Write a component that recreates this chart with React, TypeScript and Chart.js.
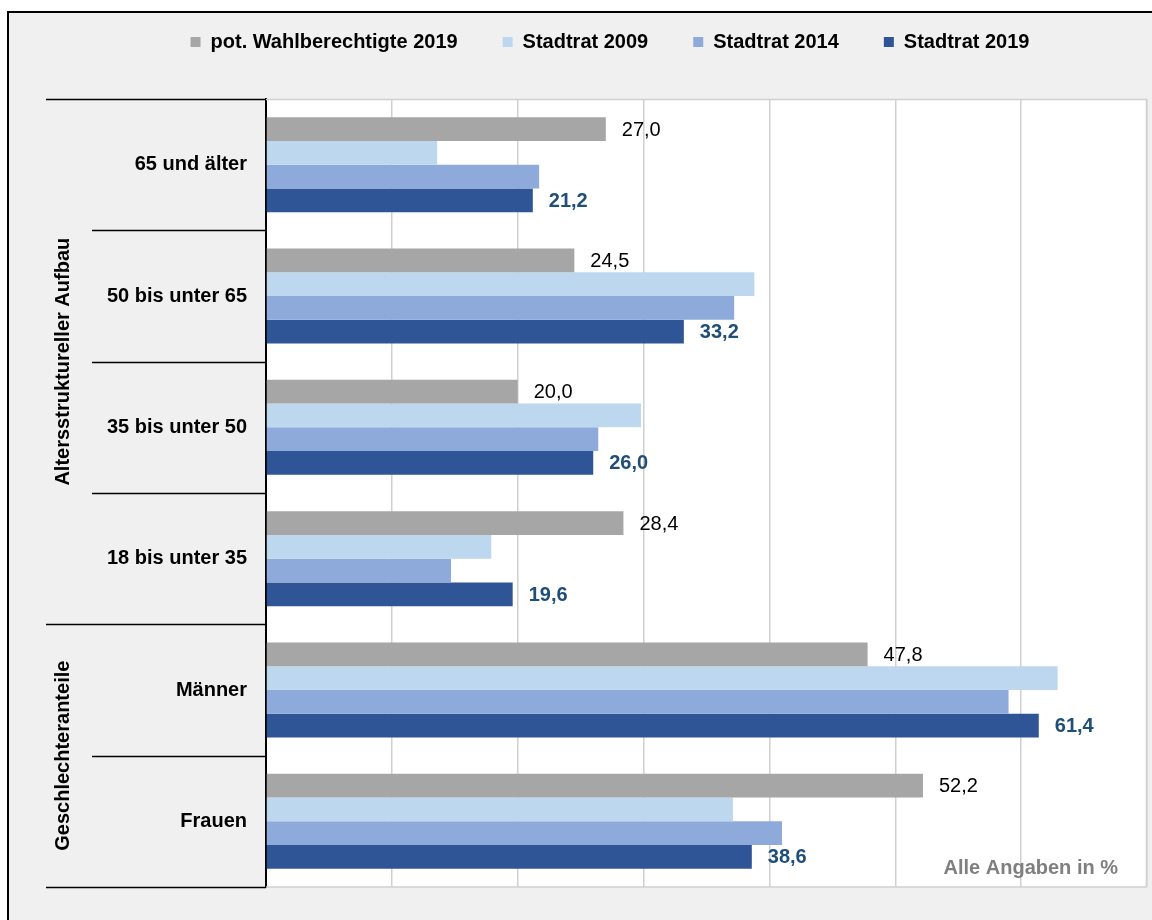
import React, { useEffect, useRef } from "react";
import { Chart, registerables } from "chart.js";

Chart.register(...registerables);

const categories = [
  "65 und älter",
  "50 bis unter 65",
  "35 bis unter 50",
  "18 bis unter 35",
  "Männer",
  "Frauen",
];
const seriesNames = [
  "pot. Wahlberechtigte 2019",
  "Stadtrat 2009",
  "Stadtrat 2014",
  "Stadtrat 2019",
];
const potWahlberechtigte2019 = [27.0, 24.5, 20.0, 28.4, 47.8, 52.2];
const stadtrat2009 = [13.6, 38.8, 29.8, 17.9, 62.9, 37.1];
const stadtrat2014 = [21.7, 37.2, 26.4, 14.7, 59.0, 41.0];
const stadtrat2019 = [21.2, 33.2, 26.0, 19.6, 61.4, 38.6];
const seriesColors = ["#a6a6a6", "#bdd7ee", "#8eaadb", "#2f5597"];
const groups = [
  { label: "Altersstruktureller Aufbau", from: 0, to: 3 },
  { label: "Geschlechteranteile", from: 4, to: 5 },
];
const footnote = "Alle Angaben in %";
const xMax = 70;
const xStep = 10;

const FONT = "'Liberation Sans', Arial, sans-serif";

const fmt = (v: number) => v.toFixed(1).replace(".", ",");

export default function App() {
  const canvasRef = useRef<HTMLCanvasElement | null>(null);

  useEffect(() => {
    const canvas = canvasRef.current;
    if (!canvas) return;

    const backgroundPlugin = {
      id: "bgFrame",
      beforeDraw(chart: any) {
        const { ctx, chartArea, width, height } = chart;
        ctx.save();
        ctx.fillStyle = "#ffffff";
        ctx.fillRect(0, 0, width, height);
        ctx.fillStyle = "#f0f0f0";
        ctx.fillRect(7, 11, width, height);
        ctx.strokeStyle = "#000000";
        ctx.lineWidth = 2;
        ctx.beginPath();
        ctx.moveTo(8, height + 5);
        ctx.lineTo(8, 12);
        ctx.lineTo(width + 5, 12);
        ctx.stroke();
        ctx.fillStyle = "#ffffff";
        ctx.fillRect(
          chartArea.left,
          chartArea.top,
          chartArea.right - chartArea.left,
          chartArea.bottom - chartArea.top
        );
        ctx.restore();
      },
      afterDraw(chart: any) {
        const { ctx, chartArea } = chart;
        const yScale = chart.scales.y;
        ctx.save();
        // plot border (grey)
        ctx.strokeStyle = "#d0d0d0";
        ctx.lineWidth = 1.5;
        ctx.beginPath();
        ctx.moveTo(chartArea.left, chartArea.top + 0.5);
        ctx.lineTo(chartArea.right - 0.5, chartArea.top + 0.5);
        ctx.lineTo(chartArea.right - 0.5, chartArea.bottom);
        ctx.lineTo(chartArea.left, chartArea.bottom);
        ctx.stroke();

        // separator lines in label area
        const n = categories.length;
        const step = (chartArea.bottom - chartArea.top) / n;
        ctx.strokeStyle = "#000000";
        ctx.lineWidth = 1.5;
        const groupStarts = new Set<number>();
        groups.forEach((g) => {
          groupStarts.add(g.from);
          groupStarts.add(g.to + 1);
        });
        for (let i = 0; i <= n; i++) {
          const y = Math.round(chartArea.top + i * step) + 0.5;
          const x0 = groupStarts.has(i) ? 46 : 92;
          ctx.beginPath();
          ctx.moveTo(x0, y);
          ctx.lineTo(chartArea.left, y);
          ctx.stroke();
        }

        // group labels
        ctx.fillStyle = "#000000";
        ctx.font = `bold 20px ${FONT}`;
        ctx.textAlign = "center";
        ctx.textBaseline = "middle";
        groups.forEach((g) => {
          const yTop = yScale.getPixelForValue(g.from) - step / 2;
          const yBot = yScale.getPixelForValue(g.to) + step / 2;
          const cy = (yTop + yBot) / 2;
          ctx.save();
          ctx.translate(63, cy);
          ctx.rotate(-Math.PI / 2);
          ctx.fillText(g.label, 0, 0);
          ctx.restore();
        });

        // footnote
        ctx.fillStyle = "#7f7f7f";
        ctx.font = `bold 20px ${FONT}`;
        ctx.textAlign = "right";
        ctx.textBaseline = "middle";
        ctx.fillText(footnote, 1118, 868);
        ctx.restore();
      },
    };

    const labelPlugin = {
      id: "valueLabels",
      afterDatasetsDraw(chart: any) {
        const { ctx } = chart;
        ctx.save();
        ctx.textAlign = "left";
        ctx.textBaseline = "middle";
        [0, 3].forEach((di) => {
          const meta = chart.getDatasetMeta(di);
          const data = chart.data.datasets[di].data as number[];
          if (di === 0) {
            ctx.font = `20px ${FONT}`;
            ctx.fillStyle = "#000000";
          } else {
            ctx.font = `bold 20px ${FONT}`;
            ctx.fillStyle = "#1f4e79";
          }
          meta.data.forEach((el: any, i: number) => {
            ctx.fillText(fmt(data[i]), el.x + 16, el.y + 1);
          });
        });
        ctx.restore();
      },
    };

    const seriesData = [
      potWahlberechtigte2019,
      stadtrat2009,
      stadtrat2014,
      stadtrat2019,
    ];

    const chart = new Chart(canvas, {
      type: "bar",
      data: {
        labels: categories,
        datasets: seriesNames.map((name, i) => ({
          label: name,
          data: seriesData[i],
          backgroundColor: seriesColors[i],
          borderWidth: 0,
          categoryPercentage: 0.723,
          barPercentage: 1.0,
        })),
      },
      options: {
        indexAxis: "y",
        responsive: false,
        animation: false,
        layout: {
          padding: { left: 73, right: 5, top: -13, bottom: 33 },
        },
        plugins: {
          legend: {
            display: true,
            position: "top",
            labels: {
              boxWidth: 10,
              boxHeight: 10,
              padding: 45,
              color: "#000000",
              font: { family: FONT, size: 20, weight: "bold" },
            },
          },
          tooltip: { enabled: false },
        },
        scales: {
          x: {
            position: "top",
            min: 0,
            max: xMax,
            ticks: { display: false, stepSize: xStep },
            grid: {
              display: true,
              color: "#d0d0d0",
              lineWidth: 1.5,
              drawTicks: false,
            },
            border: { display: false },
            afterFit: (scale: any) => {
              scale.height = 37;
            },
          },
          y: {
            type: "category",
            grid: { display: false, drawTicks: false },
            border: { display: true, color: "#000000", width: 2 },
            ticks: {
              color: "#000000",
              padding: 19,
              font: { family: FONT, size: 20, weight: "bold" },
            },
            afterFit: (scale: any) => {
              scale.width = 193;
            },
          },
        },
      },
      plugins: [backgroundPlugin, labelPlugin],
    } as any);

    return () => {
      chart.destroy();
    };
  }, []);

  return (
    <div
      style={{
        position: "absolute",
        left: 0,
        top: 0,
        width: 1152,
        height: 920,
      }}
    >
      <canvas
        ref={canvasRef}
        width={1152}
        height={920}
        style={{ display: "block", width: 1152, height: 920 }}
      />
    </div>
  );
}
